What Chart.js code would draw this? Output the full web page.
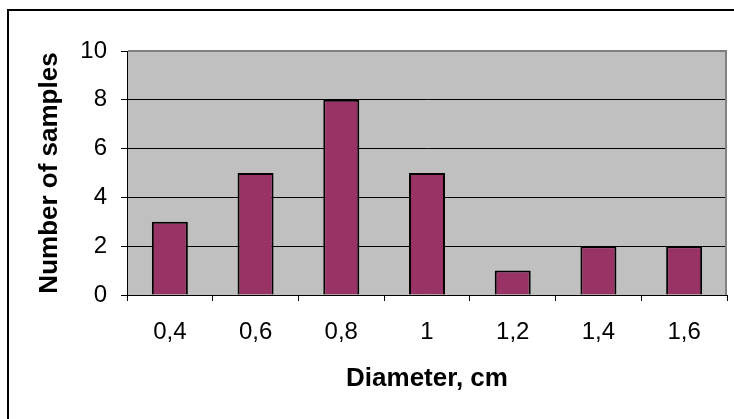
<!DOCTYPE html>
<html>
<head>
<meta charset="utf-8">
<script src="https://cdn.jsdelivr.net/npm/chart.js@4/dist/chart.umd.min.js"></script>
<style>
  html, body { margin: 0; padding: 0; background: #fff; }
  #wrap { width: 734px; height: 419px; position: relative; }
</style>
</head>
<body>
<div id="wrap"><canvas id="c" width="734" height="419"></canvas></div>
<script>
// Diameter classes (cm) and how many samples fall into each
const diameters = ['0,4', '0,6', '0,8', '1', '1,2', '1,4', '1,6'];
const sampleCounts = [3, 5, 8, 5, 1, 2, 2];
const countTicks = [0, 2, 4, 6, 8, 10];

const FONT = 'Liberation Sans, Arial, sans-serif';

// White page, outer frame and the grey plot area behind the bars
const plotFrame = {
  id: 'plotFrame',
  beforeDraw(chart) {
    const { ctx, chartArea: a, width, height } = chart;
    ctx.save();
    ctx.fillStyle = '#ffffff';
    ctx.fillRect(0, 0, width, height);
    ctx.fillStyle = '#000000';
    ctx.fillRect(7, 9, 2, height - 9);
    ctx.fillRect(7, 9, width - 7, 2);
    ctx.fillStyle = '#C0C0C0';
    ctx.fillRect(a.left, a.top, a.right - a.left, a.bottom - a.top);
    ctx.restore();
  },
  beforeDatasetsDraw(chart) {
    const { ctx, chartArea: a } = chart;
    ctx.save();
    ctx.fillStyle = '#808080';
    ctx.fillRect(a.left + 1, a.top - 1, a.right - a.left - 1, 2);
    ctx.fillRect(a.right - 2, a.top - 1, 2, a.bottom - a.top + 1);
    ctx.restore();
  }
};

new Chart(document.getElementById('c'), {
  type: 'bar',
  data: {
    labels: diameters,
    datasets: [{
      data: sampleCounts,
      backgroundColor: '#993366',
      borderColor: '#000000',
      borderWidth: 2,
      barPercentage: 0.42,
      categoryPercentage: 1
    }]
  },
  options: {
    responsive: false,
    animation: false,
    devicePixelRatio: 1,
    layout: { padding: { top: 51, right: 7, left: 0, bottom: 0 } },
    plugins: {
      legend: { display: false },
      tooltip: { enabled: false }
    },
    scales: {
      x: {
        offset: true,
        grid: {
          offset: true,
          drawOnChartArea: false,
          drawTicks: true,
          tickLength: 6,
          tickColor: '#000000'
        },
        border: { color: '#000000', width: 1 },
        ticks: {
          color: '#000000',
          padding: 17,
          maxRotation: 0,
          font: { family: FONT, size: 24 }
        },
        title: {
          display: true,
          text: 'Diameter, cm',
          color: '#000000',
          font: { family: FONT, size: 26, weight: 'bold' },
          padding: { top: 0, bottom: 25 }
        },
        afterFit(scale) { scale.height = 124; }
      },
      y: {
        min: 0,
        max: 10,
        afterBuildTicks(scale) { scale.ticks = countTicks.map(v => ({ value: v })); },
        grid: {
          color: ctx => (ctx.tick && ctx.tick.value === 10 ? '#808080' : '#000000'),
          lineWidth: 1,
          tickLength: 6,
          tickColor: '#000000'
        },
        border: { color: '#000000', width: 1 },
        ticks: {
          color: '#000000',
          padding: 14,
          font: { family: FONT, size: 24 }
        },
        title: {
          display: true,
          text: 'Number of samples',
          color: '#000000',
          font: { family: FONT, size: 26, weight: 'bold' },
          padding: { top: 34, bottom: 0 }
        },
        afterFit(scale) { scale.width = 127; }
      }
    }
  },
  plugins: [plotFrame]
});
</script>
</body>
</html>
